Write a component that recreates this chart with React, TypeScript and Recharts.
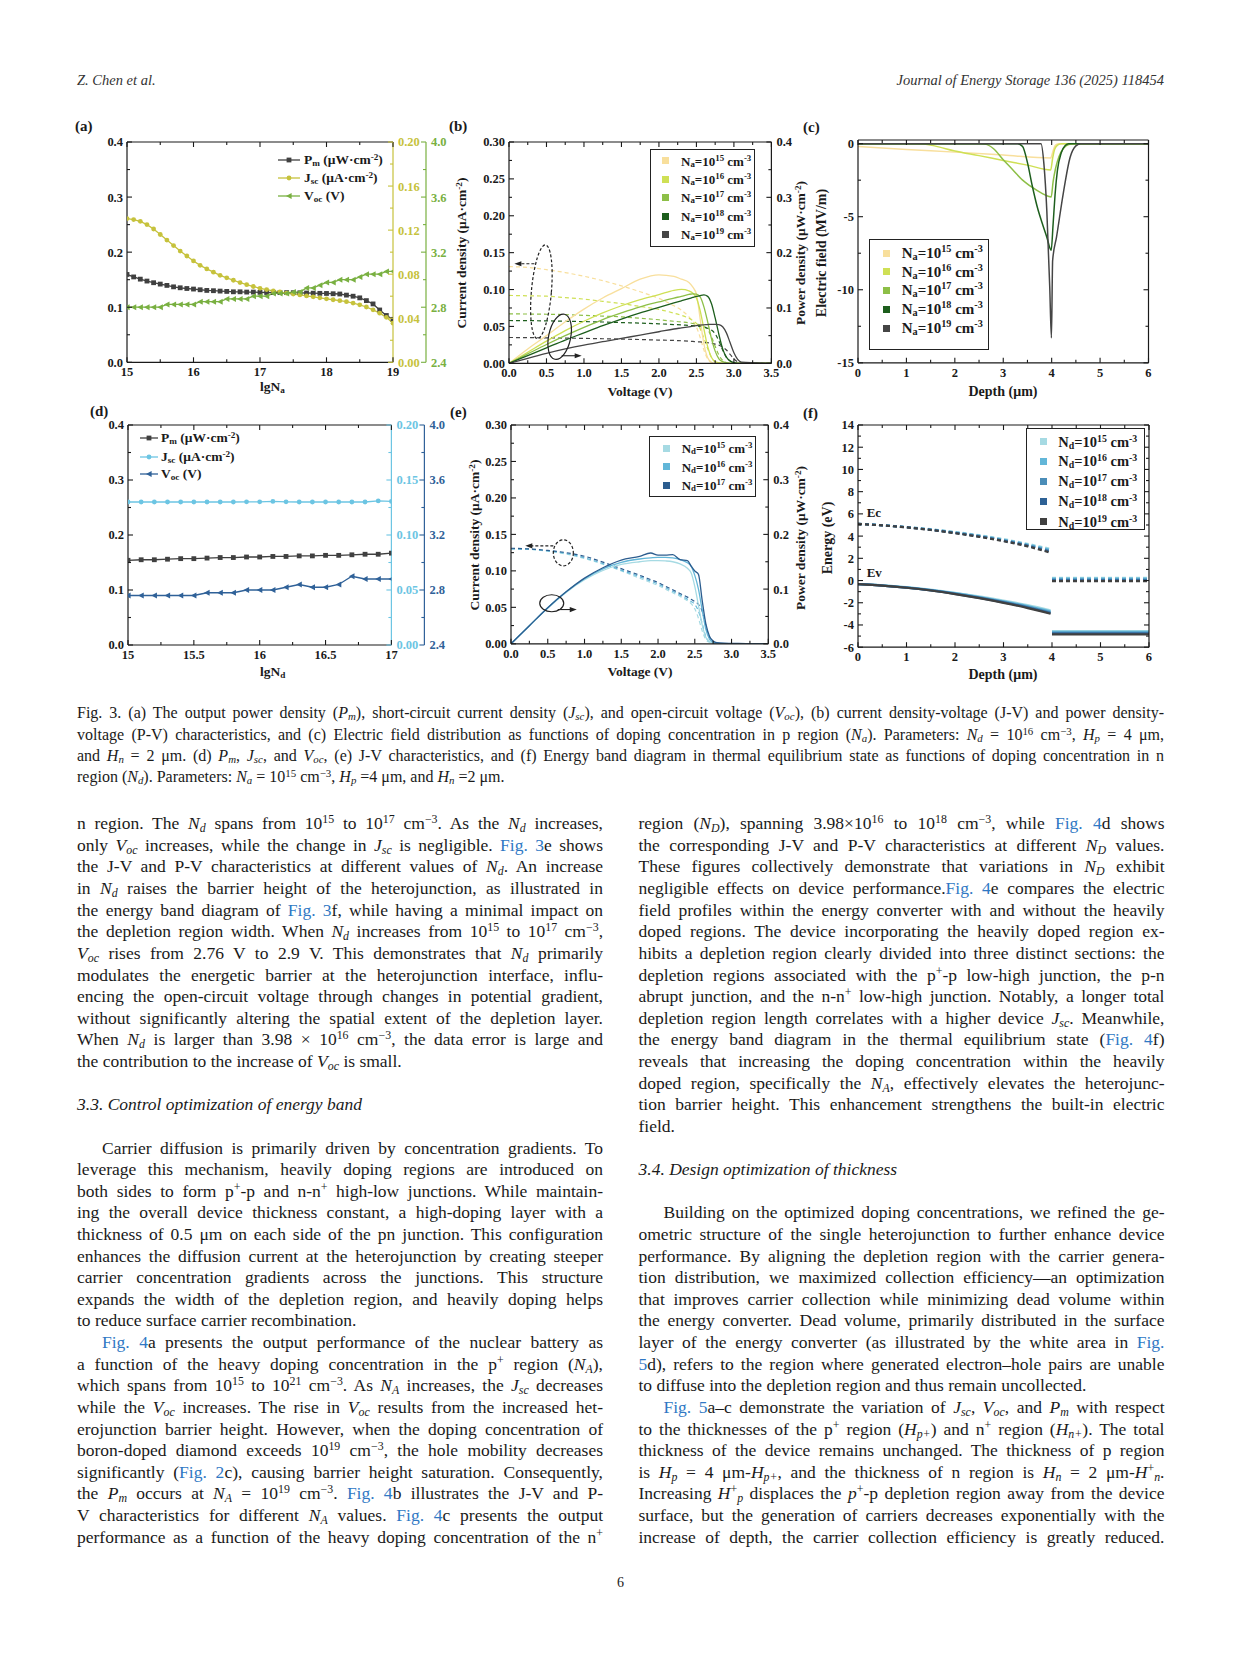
import React from "react";
import { Line, LineChart, ReferenceDot, XAxis, YAxis } from "recharts";

const FONT = '"Liberation Serif", "Times New Roman", serif';
const INK = "#1a1a1a";
const LINK = "#2f78c4";

// (a) output vs p-region doping
const lgNa = [15, 15.1, 15.2, 15.3, 15.4, 15.5, 15.6, 15.7, 15.8, 15.9, 16, 16.1, 16.2, 16.3, 16.4, 16.5, 16.6, 16.7, 16.8, 16.9, 17, 17.1, 17.2, 17.3, 17.4, 17.5, 17.6, 17.7, 17.8, 17.9, 18, 18.1, 18.2, 18.3, 18.4, 18.5, 18.6, 18.7, 18.8, 18.9, 19];
const pmA = [0.1595, 0.155, 0.151, 0.1475, 0.1445, 0.142, 0.1396, 0.137, 0.1353, 0.134, 0.133, 0.1317, 0.1305, 0.13, 0.1293, 0.1287, 0.128, 0.128, 0.1275, 0.1275, 0.127, 0.1267, 0.1266, 0.1265, 0.1265, 0.1264, 0.1262, 0.1258, 0.1255, 0.1252, 0.125, 0.1245, 0.124, 0.122, 0.12, 0.117, 0.112, 0.106, 0.095, 0.085, 0.078];
const jscA = [0.1305, 0.1296, 0.128, 0.125, 0.121, 0.116, 0.111, 0.106, 0.101, 0.0965, 0.092, 0.088, 0.0848, 0.0818, 0.079, 0.0767, 0.0745, 0.0724, 0.0705, 0.0688, 0.0672, 0.066, 0.0648, 0.0638, 0.0628, 0.062, 0.0612, 0.0603, 0.0594, 0.0585, 0.0576, 0.0568, 0.0559, 0.055, 0.0538, 0.0522, 0.0502, 0.0476, 0.0446, 0.0408, 0.0355];
const vocA = [2.8, 2.8, 2.8, 2.8, 2.8, 2.8, 2.82, 2.82, 2.82, 2.82, 2.82, 2.84, 2.84, 2.84, 2.84, 2.86, 2.86, 2.86, 2.86, 2.88, 2.88, 2.88, 2.9, 2.9, 2.9, 2.91, 2.91, 2.94, 2.94, 2.96, 2.98, 2.98, 3.0, 3.0, 3.0, 3.02, 3.04, 3.04, 3.04, 3.06, 3.06];

// (d) output vs n-region doping
const lgNd = [15, 15.1, 15.2, 15.3, 15.4, 15.5, 15.6, 15.7, 15.8, 15.9, 16, 16.1, 16.2, 16.3, 16.4, 16.5, 16.6, 16.7, 16.8, 16.9, 17];
const pmD = [0.154, 0.155, 0.155, 0.156, 0.157, 0.157, 0.158, 0.159, 0.159, 0.16, 0.16, 0.161, 0.161, 0.162, 0.162, 0.163, 0.163, 0.164, 0.165, 0.165, 0.167];
const jscD = [0.13, 0.13, 0.13, 0.13, 0.13, 0.13, 0.13, 0.13, 0.13, 0.1302, 0.1302, 0.1305, 0.1302, 0.13, 0.13, 0.13, 0.13, 0.13, 0.13, 0.131, 0.1305];
const vocD = [2.76, 2.76, 2.76, 2.76, 2.76, 2.76, 2.78, 2.78, 2.78, 2.8, 2.8, 2.8, 2.82, 2.84, 2.82, 2.82, 2.84, 2.9, 2.88, 2.88, 2.88];

// (b) J-V (left axis) and P-V (right axis), N_a = 1e15..1e19
const vB = [0, 0.25, 0.5, 0.75, 1.0, 1.25, 1.5, 1.75, 2.0, 2.2, 2.3, 2.4, 2.45, 2.5, 2.55, 2.6, 2.65, 2.7, 2.75, 2.8, 2.85, 2.9, 2.95, 3.0, 3.05, 3.1, 3.5];
const jB15 = [0.131, 0.13, 0.127, 0.123, 0.118, 0.112, 0.105, 0.097, 0.088, 0.078, 0.072, 0.063, 0.057, 0.049, 0.035, 0.018, 0.006, 0.001, 0, 0, 0, 0, 0, 0, 0, 0, 0];
const jB16 = [0.092, 0.0915, 0.091, 0.089, 0.087, 0.084, 0.081, 0.077, 0.073, 0.068, 0.065, 0.061, 0.058, 0.054, 0.047, 0.034, 0.02, 0.008, 0.002, 0.0005, 0, 0, 0, 0, 0, 0, 0];
const jB17 = [0.067, 0.0668, 0.0665, 0.066, 0.065, 0.064, 0.063, 0.061, 0.059, 0.057, 0.056, 0.055, 0.054, 0.053, 0.052, 0.05, 0.046, 0.036, 0.023, 0.011, 0.004, 0.001, 0, 0, 0, 0, 0];
const jB18 = [0.058, 0.0578, 0.0575, 0.057, 0.0565, 0.056, 0.0552, 0.0545, 0.0535, 0.0525, 0.052, 0.0513, 0.051, 0.0505, 0.05, 0.049, 0.0475, 0.045, 0.04, 0.03, 0.018, 0.008, 0.003, 0.001, 0, 0, 0];
const jB19 = [0.035, 0.0348, 0.0345, 0.0342, 0.0338, 0.0333, 0.0328, 0.0322, 0.0315, 0.031, 0.0305, 0.03, 0.0297, 0.0293, 0.029, 0.0285, 0.028, 0.0272, 0.026, 0.0245, 0.022, 0.018, 0.012, 0.006, 0.002, 0.0005, 0];
const pB15 = [0, 0.026, 0.05, 0.075, 0.098, 0.118, 0.135, 0.152, 0.16, 0.157, 0.152, 0.146, 0.138, 0.125, 0.08, 0.035, 0.01, 0.002, 0, 0, 0, 0, 0, 0, 0, 0, 0];
const pB16 = [0, 0.02, 0.04, 0.059, 0.076, 0.091, 0.104, 0.115, 0.124, 0.132, 0.1335, 0.131, 0.127, 0.118, 0.095, 0.062, 0.03, 0.011, 0.003, 0.001, 0, 0, 0, 0, 0, 0, 0];
const pB17 = [0, 0.017, 0.034, 0.05, 0.065, 0.079, 0.091, 0.102, 0.111, 0.118, 0.121, 0.1245, 0.1255, 0.125, 0.12, 0.102, 0.075, 0.045, 0.022, 0.008, 0.003, 0.001, 0, 0, 0, 0, 0];
const pB18 = [0, 0.014, 0.028, 0.042, 0.055, 0.068, 0.08, 0.091, 0.101, 0.109, 0.113, 0.117, 0.119, 0.121, 0.1225, 0.1235, 0.121, 0.108, 0.082, 0.052, 0.026, 0.011, 0.004, 0.001, 0, 0, 0];
const pB19 = [0, 0.009, 0.018, 0.026, 0.033, 0.039, 0.045, 0.051, 0.057, 0.062, 0.064, 0.066, 0.067, 0.068, 0.069, 0.0695, 0.07, 0.0705, 0.0705, 0.07, 0.066, 0.055, 0.037, 0.019, 0.007, 0.002, 0];

// (e) J-V and P-V, N_d = 1e15..1e17
const vE = [0, 0.25, 0.5, 0.75, 1.0, 1.25, 1.5, 1.75, 1.9, 2.0, 2.1, 2.2, 2.3, 2.4, 2.45, 2.5, 2.55, 2.6, 2.65, 2.7, 2.75, 2.8, 2.9, 3.0, 3.2, 3.5];
const jE15 = [0.13, 0.1295, 0.127, 0.123, 0.117, 0.109, 0.1, 0.09, 0.084, 0.08, 0.075, 0.07, 0.065, 0.059, 0.055, 0.048, 0.035, 0.018, 0.006, 0.002, 0, 0, 0, 0, 0, 0];
const jE16 = [0.13, 0.1297, 0.1275, 0.124, 0.118, 0.11, 0.101, 0.092, 0.086, 0.082, 0.077, 0.072, 0.067, 0.061, 0.058, 0.054, 0.045, 0.028, 0.01, 0.003, 0.001, 0, 0, 0, 0, 0];
const jE17 = [0.131, 0.13, 0.128, 0.125, 0.12, 0.112, 0.103, 0.094, 0.088, 0.084, 0.079, 0.074, 0.069, 0.064, 0.061, 0.058, 0.054, 0.045, 0.025, 0.008, 0.002, 0, 0, 0, 0, 0];
const pE15 = [0, 0.033, 0.065, 0.094, 0.117, 0.134, 0.145, 0.15, 0.152, 0.152, 0.1515, 0.15, 0.146, 0.138, 0.13, 0.105, 0.07, 0.035, 0.012, 0.004, 0.001, 0, 0, 0, 0, 0];
const pE16 = [0, 0.033, 0.066, 0.095, 0.119, 0.137, 0.149, 0.155, 0.157, 0.158, 0.158, 0.157, 0.154, 0.148, 0.142, 0.125, 0.1, 0.062, 0.027, 0.009, 0.003, 0.001, 0, 0, 0, 0];
const pE17 = [0, 0.033, 0.066, 0.095, 0.12, 0.139, 0.153, 0.16, 0.166, 0.162, 0.162, 0.163, 0.154, 0.152, 0.142, 0.133, 0.127, 0.08, 0.037, 0.014, 0.005, 0.002, 0.001, 0.0008, 0.0003, 0];

// (c) electric field vs depth
const efX15 = [0, 1, 2, 3, 3.98, 4.02, 4.06, 4.1, 4.15, 6];
const efY15 = [-0.2, -0.4, -0.58, -0.78, -0.98, -0.6, -0.2, -0.05, 0, 0];
const efX16 = [0, 1.2, 1.4, 1.6, 2.0, 2.5, 3.0, 3.5, 3.98, 4.02, 4.06, 4.12, 4.2, 6];
const efY16 = [0, 0, -0.04, -0.17, -0.5, -0.82, -1.15, -1.47, -1.8, -1.0, -0.4, -0.1, 0, 0];
const efX17 = [0, 2.5, 2.65, 2.8, 3.0, 3.2, 3.4, 3.6, 3.8, 3.99, 4.03, 4.08, 4.15, 4.25, 4.35, 4.45, 6];
const efY17 = [0, 0, -0.05, -0.35, -1.1, -1.8, -2.5, -3.0, -3.4, -3.65, -2.6, -1.7, -0.9, -0.3, -0.06, 0, 0];
const efX18 = [0, 3.3, 3.4, 3.5, 3.6, 3.7, 3.8, 3.9, 3.99, 4.03, 4.07, 4.12, 4.2, 4.28, 4.35, 6];
const efY18 = [0, 0, -0.2, -1.3, -2.9, -4.3, -5.4, -6.4, -7.3, -5.5, -3.5, -1.8, -0.6, -0.12, 0, 0];
const efX19 = [0, 3.78, 3.84, 3.9, 3.96, 3.995, 4.02, 4.1, 4.24, 4.38, 4.5, 4.6, 6];
const efY19 = [0, 0, -1.4, -4.6, -9.8, -13.3, -8.0, -6.4, -3.4, -0.95, -0.15, 0, 0];

// (f) energy band, N_d = 1e15..1e19
const dF = [0, 0.5, 1, 1.5, 2, 2.5, 3, 3.5, 3.97];
const ecF15 = [5.1, 4.98, 4.82, 4.62, 4.37, 4.08, 3.73, 3.3, 2.85];
const ecF16 = [5.1, 4.98, 4.81, 4.6, 4.34, 4.04, 3.68, 3.24, 2.75];
const ecF17 = [5.1, 4.97, 4.8, 4.58, 4.31, 4.0, 3.63, 3.18, 2.65];
const ecF18 = [5.1, 4.97, 4.79, 4.56, 4.28, 3.96, 3.58, 3.12, 2.57];
const ecF19 = [5.1, 4.96, 4.78, 4.55, 4.26, 3.93, 3.54, 3.07, 2.5];
const evF15 = [-0.33, -0.43, -0.6, -0.82, -1.1, -1.43, -1.8, -2.22, -2.68];
const evF16 = [-0.33, -0.44, -0.62, -0.85, -1.14, -1.48, -1.87, -2.3, -2.78];
const evF17 = [-0.33, -0.45, -0.63, -0.87, -1.17, -1.52, -1.92, -2.37, -2.86];
const evF18 = [-0.33, -0.45, -0.64, -0.89, -1.2, -1.56, -1.97, -2.43, -2.93];
const evF19 = [-0.33, -0.46, -0.65, -0.9, -1.22, -1.59, -2.01, -2.48, -2.99];
const dFR = [4.0, 6.0];
const ecRight = [0.25, 0.17, 0.09, 0.02, -0.05];
const evRight = [-4.55, -4.63, -4.7, -4.78, -4.85];

// ticks
const tA = [15, 15.5, 16, 16.5, 17, 17.5, 18, 18.5, 19];
const tAMaj = [15, 16, 17, 18, 19];
const tD = [15, 15.25, 15.5, 15.75, 16, 16.25, 16.5, 16.75, 17];
const tDMaj = [15, 15.5, 16, 16.5, 17];
const tPm = [0, 0.05, 0.1, 0.15, 0.2, 0.25, 0.3, 0.35, 0.4];
const tPmMaj = [0, 0.1, 0.2, 0.3, 0.4];
const tJscA = [0, 0.02, 0.04, 0.06, 0.08, 0.1, 0.12, 0.14, 0.16, 0.18, 0.2];
const tJscAMaj = [0, 0.04, 0.08, 0.12, 0.16, 0.2];
const tJscD = [0, 0.025, 0.05, 0.075, 0.1, 0.125, 0.15, 0.175, 0.2];
const tJscDMaj = [0, 0.05, 0.1, 0.15, 0.2];
const tVoc = [2.4, 2.6, 2.8, 3.0, 3.2, 3.4, 3.6, 3.8, 4.0];
const tVocMaj = [2.4, 2.8, 3.2, 3.6, 4.0];
const tV = [0, 0.25, 0.5, 0.75, 1, 1.25, 1.5, 1.75, 2, 2.25, 2.5, 2.75, 3, 3.25, 3.5];
const tVMaj = [0, 0.5, 1, 1.5, 2, 2.5, 3, 3.5];
const tJ = [0, 0.025, 0.05, 0.075, 0.1, 0.125, 0.15, 0.175, 0.2, 0.225, 0.25, 0.275, 0.3];
const tJMaj = [0, 0.05, 0.1, 0.15, 0.2, 0.25, 0.3];
const tP = [0, 0.05, 0.1, 0.15, 0.2, 0.25, 0.3, 0.35, 0.4];
const tPMaj = [0, 0.1, 0.2, 0.3, 0.4];
const tDepth = [0, 0.5, 1, 1.5, 2, 2.5, 3, 3.5, 4, 4.5, 5, 5.5, 6];
const tDepthMaj = [0, 1, 2, 3, 4, 5, 6];
const tEf = [-15, -12.5, -10, -7.5, -5, -2.5, 0];
const tEfMaj = [-15, -10, -5, 0];
const tEn = [-6, -5, -4, -3, -2, -1, 0, 1, 2, 3, 4, 5, 6, 7, 8, 9, 10, 11, 12, 13, 14];
const tEnMaj = [-6, -4, -2, 0, 2, 4, 6, 8, 10, 12, 14];

const exps = [15, 16, 17, 18, 19];
const greens = ["#f8df9c", "#cfe055", "#8dbf47", "#1d5e1d", "#454545"];
const blues = ["#a6dae3", "#62b6d8", "#4b8db8", "#2d6195", "#404040"];
const bluesE = ["#a6dae3", "#62b6d8", "#2c5d8f"];

const pts = (xs: number[], ys: number[]) => xs.map((x, i) => ({ x, y: ys[i] }));
const f0 = (v: number) => String(v);
const f1 = (v: number) => v.toFixed(1);
const f2 = (v: number) => v.toFixed(2);

const PAD = { l: 55, t: 12, r: 10, b: 38 };
const XH = 25;
const TH = 1;
const AXL = { stroke: INK, strokeWidth: 1.2 };

function mkTick(side: string, majors: number[], fmt: (v: number) => string, color = INK, labels = true) {
  return (p: any) => {
    const v = p.payload.value;
    const major = majors.some((m) => Math.abs(m - v) < 1e-6);
    const len = major ? 5 : 3;
    const { x, y } = p;
    let l = [x, y, x, y];
    let tx = x;
    let ty = y;
    let anchor = "middle";
    if (side === "left") { l = [x, y, x + len, y]; tx = x - 4; ty = y + 4.5; anchor = "end"; }
    else if (side === "right") { l = [x, y, x - len, y]; tx = x + 5; ty = y + 4.5; anchor = "start"; }
    else if (side === "bottom") { l = [x, y, x, y - len]; ty = y + 14; }
    else { l = [x, y, x, y + len]; }
    return (
      <g>
        <line x1={l[0]} y1={l[1]} x2={l[2]} y2={l[3]} stroke={color} strokeWidth={1.1} />
        {labels && major && side !== "top" ? (
          <text x={tx} y={ty} textAnchor={anchor} fill={color} fontFamily={FONT} fontWeight="bold" fontSize={12.5}>{fmt(v)}</text>
        ) : null}
      </g>
    );
  };
}

function xAxes(domain: number[], ticks: number[], majors: number[], fmt: (v: number) => string) {
  return [
    <XAxis key="xb" xAxisId="b" type="number" dataKey="x" domain={domain} ticks={ticks} interval={0} allowDataOverflow tickSize={0} tickMargin={0} height={XH} axisLine={AXL} tickLine={false} tick={mkTick("bottom", majors, fmt)} />,
    <XAxis key="xt" xAxisId="t" orientation="top" type="number" dataKey="x" domain={domain} ticks={ticks} interval={0} allowDataOverflow tickSize={0} tickMargin={0} height={TH} axisLine={AXL} tickLine={false} tick={mkTick("top", majors, fmt)} />,
  ];
}

function yAxis(id: string, side: "left" | "right", width: number, domain: number[], ticks: number[], majors: number[], fmt: (v: number) => string, color = INK, labels = true) {
  return (
    <YAxis key={id} yAxisId={id} orientation={side} width={width} type="number" domain={domain} ticks={ticks} interval={0} allowDataOverflow tickSize={0} tickMargin={0} axisLine={{ stroke: color, strokeWidth: 1.2 }} tickLine={false} tick={mkTick(side, majors, fmt, color, labels)} />
  );
}

function line(key: string, data: any[], yId: string, color: string, dashed = false, w = 1.3, dataKey = "y") {
  return (
    <Line key={key} xAxisId="b" yAxisId={yId} data={data} dataKey={dataKey} type="monotone" stroke={color} strokeWidth={w} strokeDasharray={dashed ? "4 3" : undefined} dot={false} activeDot={false} isAnimationActive={false} />
  );
}

function Frame({ plot, lw, rw, data, children }: any) {
  const [l, t, r, b] = plot;
  const width = r - l + PAD.l + rw + PAD.r;
  const height = b - t + PAD.t + PAD.b;
  return (
    <div style={{ position: "absolute", left: l - PAD.l, top: t - PAD.t }}>
      <LineChart width={width} height={height} data={data} margin={{ left: PAD.l - lw, top: PAD.t - TH, right: PAD.r, bottom: PAD.b - XH }}>
        {children}
      </LineChart>
    </div>
  );
}

const sqDot = (c: string) => (p: any) => <rect key={p.index} x={p.cx - 2.4} y={p.cy - 2.4} width={4.8} height={4.8} fill={c} />;
const ciDot = (c: string) => (p: any) => <circle key={p.index} cx={p.cx} cy={p.cy} r={2.4} fill={c} />;
const trDot = (c: string) => (p: any) => <path key={p.index} d={`M${p.cx - 3},${p.cy} L${p.cx + 2.6},${p.cy - 3} L${p.cx + 2.6},${p.cy + 3} Z`} fill={c} />;

function oval(o: any) {
  return (p: any) => {
    const { cx, cy } = p;
    const x1 = cx + o.ax[0];
    const x2 = cx + o.ax[1];
    const ay = cy + o.ay;
    const dir = Math.sign(x2 - x1);
    const dash = o.dashed ? "3 2" : undefined;
    return (
      <g>
        <ellipse cx={cx} cy={cy} rx={o.rx} ry={o.ry} transform={`rotate(${o.rot} ${cx} ${cy})`} fill="none" stroke="#222" strokeWidth={1.2} strokeDasharray={dash} />
        <line x1={x1} y1={ay} x2={x2 - dir * 5} y2={ay} stroke="#222" strokeWidth={1.1} strokeDasharray={dash} />
        <path d={`M${x2},${ay} L${x2 - dir * 7},${ay - 2.6} L${x2 - dir * 7},${ay + 2.6} Z`} fill="#222" />
      </g>
    );
  };
}

const annB = [
  { x: 0.432, y: 0.097, rx: 10, ry: 47, rot: 5, dashed: true, ax: [-7, -27], ay: -28 },
  { x: 0.676, y: 0.036, rx: 11, ry: 23, rot: 12, dashed: false, ax: [2, 22], ay: 19 },
];
const annE = [
  { x: 0.712, y: 0.1247, rx: 10, ry: 13, rot: 0, dashed: true, ax: [-10, -38], ay: -7 },
  { x: 0.554, y: 0.0556, rx: 12, ry: 8.5, rot: 0, dashed: false, ax: [6, 25], ay: 6.3 },
];

// ---------- HTML helpers ----------
const abs = (left: number, top: number, extra: any = {}) => ({ position: "absolute" as const, left, top, ...extra });

function Txt({ x, y, fs = 13.5, bold = true, children, anchor = "left", color = INK, italic = false }: any) {
  const tf = anchor === "middle" ? "translate(-50%,-50%)" : anchor === "end" ? "translate(-100%,-50%)" : "translateY(-50%)";
  return (
    <div style={abs(x, y, { transform: tf, fontSize: fs, fontWeight: bold ? "bold" : "normal", fontStyle: italic ? "italic" : "normal", fontFamily: FONT, color, whiteSpace: "nowrap", lineHeight: 1 })}>
      {children}
    </div>
  );
}

function VTxt({ x, y, fs = 13.5, children }: any) {
  return (
    <div style={abs(x, y, { transform: "translate(-50%,-50%) rotate(-90deg)", fontSize: fs, fontWeight: "bold", fontFamily: FONT, color: INK, whiteSpace: "nowrap", lineHeight: 1 })}>
      {children}
    </div>
  );
}

function SqLegend({ box, ys, colors, sub, sqX, txX, fs, sq = 7 }: any) {
  return (
    <>
      <div style={abs(box[0], box[1], { width: box[2] - box[0], height: box[3] - box[1], border: "1.4px solid #222", boxSizing: "border-box", background: "#fff" })} />
      {ys.map((y: number, i: number) => (
        <React.Fragment key={i}>
          <div style={abs(sqX - sq / 2, y - sq / 2, { width: sq, height: sq, background: colors[i] })} />
          <Txt x={txX} y={y} fs={fs}>
            N<sub>{sub}</sub>=10<sup>{exps[i]}</sup> cm<sup>-3</sup>
          </Txt>
        </React.Fragment>
      ))}
    </>
  );
}

function MkLegend({ rows, x0, x1, txX }: any) {
  return (
    <>
      {rows.map((r: any, i: number) => {
        const w = x1 - x0;
        const cx = w / 2;
        return (
          <React.Fragment key={i}>
            <svg style={abs(x0, r.y - 5)} width={w} height={10}>
              <line x1={0} y1={5} x2={w} y2={5} stroke={r.color} strokeWidth={1.3} />
              {r.m === "sq" ? <rect x={cx - 2.4} y={2.6} width={4.8} height={4.8} fill={r.color} /> : null}
              {r.m === "ci" ? <circle cx={cx} cy={5} r={2.4} fill={r.color} /> : null}
              {r.m === "tr" ? <path d={`M${cx - 3},5 L${cx + 2.6},2 L${cx + 2.6},8 Z`} fill={r.color} /> : null}
            </svg>
            <Txt x={txX} y={r.y} fs={13.5}>{r.label}</Txt>
          </React.Fragment>
        );
      })}
    </>
  );
}

const PmL = () => <>P<sub>m</sub> (μW·cm<sup>-2</sup>)</>;
const JscL = () => <>J<sub>sc</sub> (μA·cm<sup>-2</sup>)</>;
const VocL = () => <>V<sub>oc</sub> (V)</>;

// ---------- panels ----------
const rowsA = lgNa.map((x, i) => ({ x, pm: pmA[i], jsc: jscA[i], voc: vocA[i] }));
const rowsD = lgNd.map((x, i) => ({ x, pm: pmD[i], jsc: jscD[i], voc: vocD[i] }));

function SweepPanel({ plot, rows, xDom, xt, xtMaj, jscTicks, jscMaj, jscColor, vocColor }: any) {
  return (
    <Frame plot={plot} lw={45} rw={33 + 36} data={rows}>
      {xAxes(xDom, xt, xtMaj, f0)}
      {yAxis("pm", "left", 45, [0, 0.4], tPm, tPmMaj, f1)}
      {yAxis("jsc", "right", 33, [0, 0.2], jscTicks, jscMaj, f2, jscColor)}
      {yAxis("voc", "right", 36, [2.4, 4.0], tVoc, tVocMaj, f1, vocColor)}
      <Line xAxisId="b" yAxisId="pm" dataKey="pm" type="linear" stroke="#404040" strokeWidth={1.3} dot={sqDot("#404040")} activeDot={false} isAnimationActive={false} />
      <Line xAxisId="b" yAxisId="jsc" dataKey="jsc" type="linear" stroke={jscColor} strokeWidth={1.3} dot={ciDot(jscColor)} activeDot={false} isAnimationActive={false} />
      <Line xAxisId="b" yAxisId="voc" dataKey="voc" type="linear" stroke={vocColor} strokeWidth={1.3} dot={trDot(vocColor)} activeDot={false} isAnimationActive={false} />
    </Frame>
  );
}

function JVPanel({ plot, v, js, ps, colors, ann }: any) {
  return (
    <Frame plot={plot} lw={45} rw={30}>
      {xAxes([0, 3.5], tV, tVMaj, f1)}
      {yAxis("j", "left", 45, [0, 0.3], tJ, tJMaj, f2)}
      {yAxis("p", "right", 30, [0, 0.4], tP, tPMaj, f1)}
      {js.map((j: number[], i: number) => line(`j${i}`, pts(v, j), "j", colors[i], true, 1.2))}
      {ps.map((p: number[], i: number) => line(`p${i}`, pts(v, p), "p", colors[i], false, 1.3))}
      {ann.map((a: any, i: number) => (
        <ReferenceDot key={`a${i}`} xAxisId="b" yAxisId="j" x={a.x} y={a.y} r={1} shape={oval(a)} />
      ))}
    </Frame>
  );
}

function FieldPanel() {
  const xs = [efX15, efX16, efX17, efX18, efX19];
  const ys = [efY15, efY16, efY17, efY18, efY19];
  return (
    <Frame plot={[858, 139.5, 1148.5, 362.3]} lw={45} rw={1}>
      {xAxes([0, 6], tDepth, tDepthMaj, f0)}
      {yAxis("e", "left", 45, [-15, 0.25], tEf, tEfMaj, f0)}
      {yAxis("r", "right", 1, [-15, 0.25], tEf, tEfMaj, f0, INK, false)}
      {xs.map((x, i) => line(`e${i}`, pts(x, ys[i]), "e", greens[i], false, 1.5))}
    </Frame>
  );
}

function BandPanel() {
  const ec = [ecF15, ecF16, ecF17, ecF18, ecF19];
  const ev = [evF15, evF16, evF17, evF18, evF19];
  return (
    <Frame plot={[858, 424.5, 1149, 646.7]} lw={45} rw={1}>
      {xAxes([0, 6], tDepth, tDepthMaj, f0)}
      {yAxis("e", "left", 45, [-6, 14], tEn, tEnMaj, f0)}
      {yAxis("r", "right", 1, [-6, 14], tEn, tEnMaj, f0, INK, false)}
      {ec.map((c, i) => line(`ec${i}`, pts(dF, c), "e", blues[i], true, 2.2))}
      {ev.map((c, i) => line(`ev${i}`, pts(dF, c), "e", blues[i], false, 2.2))}
      {ecRight.map((c, i) => line(`ecr${i}`, pts(dFR, [c, c]), "e", blues[i], true, 2.2))}
      {evRight.map((c, i) => line(`evr${i}`, pts(dFR, [c, c]), "e", blues[i], false, 2.2))}
    </Frame>
  );
}

// ---------- page text ----------
const Nv = ({ v, s }: { v: string; s: string }) => (
  <>
    <i>{v}</i>
    <sub><i>{s}</i></sub>
  </>
);
const Lk = ({ children }: any) => <span style={{ color: LINK }}>{children}</span>;

function TL({ x, y, w, fs, flags = "", children }: any) {
  const lh = 20;
  const last = flags.includes("l") || flags.includes("h");
  return (
    <div
      style={abs(x, y - lh / 2 - 1, {
        width: w,
        height: lh,
        lineHeight: `${lh}px`,
        fontSize: fs,
        fontFamily: FONT,
        color: INK,
        textAlign: last ? "left" : "justify",
        textAlignLast: last ? "left" : "justify",
        whiteSpace: "nowrap",
        paddingLeft: flags.includes("i") ? 25 : 0,
        boxSizing: "border-box",
        fontStyle: flags.includes("h") ? "italic" : "normal",
      })}
    >
      {children}
    </div>
  );
}

const col = (x: number, rows: any[]) =>
  rows.map(([s, c, f]) => (
    <TL key={s} x={x} y={824.2 + s * 21.62} w={526} fs={17.5} flags={f}>
      {c}
    </TL>
  ));

const m3 = <>cm<sup>−3</sup></>;

const leftRows = [
  [0, <>n region. The <Nv v="N" s="d" /> spans from 10<sup>15</sup> to 10<sup>17</sup> {m3}. As the <Nv v="N" s="d" /> increases,</>],
  [1, <>only <Nv v="V" s="oc" /> increases, while the change in <Nv v="J" s="sc" /> is negligible. <Lk>Fig. 3</Lk>e shows</>],
  [2, <>the J-V and P-V characteristics at different values of <Nv v="N" s="d" />. An increase</>],
  [3, <>in <Nv v="N" s="d" /> raises the barrier height of the heterojunction, as illustrated in</>],
  [4, <>the energy band diagram of <Lk>Fig. 3</Lk>f, while having a minimal impact on</>],
  [5, <>the depletion region width. When <Nv v="N" s="d" /> increases from 10<sup>15</sup> to 10<sup>17</sup> {m3},</>],
  [6, <><Nv v="V" s="oc" /> rises from 2.76 V to 2.9 V. This demonstrates that <Nv v="N" s="d" /> primarily</>],
  [7, <>modulates the energetic barrier at the heterojunction interface, influ-</>],
  [8, <>encing the open-circuit voltage through changes in potential gradient,</>],
  [9, <>without significantly altering the spatial extent of the depletion layer.</>],
  [10, <>When <Nv v="N" s="d" /> is larger than 3.98 × 10<sup>16</sup> {m3}, the data error is large and</>],
  [11, <>the contribution to the increase of <Nv v="V" s="oc" /> is small.</>, "l"],
  [13, <>3.3. Control optimization of energy band</>, "h"],
  [15, <>Carrier diffusion is primarily driven by concentration gradients. To</>, "i"],
  [16, <>leverage this mechanism, heavily doping regions are introduced on</>],
  [17, <>both sides to form p<sup>+</sup>-p and n-n<sup>+</sup> high-low junctions. While maintain-</>],
  [18, <>ing the overall device thickness constant, a high-doping layer with a</>],
  [19, <>thickness of 0.5 μm on each side of the pn junction. This configuration</>],
  [20, <>enhances the diffusion current at the heterojunction by creating steeper</>],
  [21, <>carrier concentration gradients across the junctions. This structure</>],
  [22, <>expands the width of the depletion region, and heavily doping helps</>],
  [23, <>to reduce surface carrier recombination.</>, "l"],
  [24, <><Lk>Fig. 4</Lk>a presents the output performance of the nuclear battery as</>, "i"],
  [25, <>a function of the heavy doping concentration in the p<sup>+</sup> region (<Nv v="N" s="A" />),</>],
  [26, <>which spans from 10<sup>15</sup> to 10<sup>21</sup> {m3}. As <Nv v="N" s="A" /> increases, the <Nv v="J" s="sc" /> decreases</>],
  [27, <>while the <Nv v="V" s="oc" /> increases. The rise in <Nv v="V" s="oc" /> results from the increased het-</>],
  [28, <>erojunction barrier height. However, when the doping concentration of</>],
  [29, <>boron-doped diamond exceeds 10<sup>19</sup> {m3}, the hole mobility decreases</>],
  [30, <>significantly (<Lk>Fig. 2</Lk>c), causing barrier height saturation. Consequently,</>],
  [31, <>the <Nv v="P" s="m" /> occurs at <Nv v="N" s="A" /> = 10<sup>19</sup> {m3}. <Lk>Fig. 4</Lk>b illustrates the J-V and P-</>],
  [32, <>V characteristics for different <Nv v="N" s="A" /> values. <Lk>Fig. 4</Lk>c presents the output</>],
  [33, <>performance as a function of the heavy doping concentration of the n<sup>+</sup></>],
];

const rightRows = [
  [0, <>region (<Nv v="N" s="D" />), spanning 3.98×10<sup>16</sup> to 10<sup>18</sup> {m3}, while <Lk>Fig. 4</Lk>d shows</>],
  [1, <>the corresponding J-V and P-V characteristics at different <Nv v="N" s="D" /> values.</>],
  [2, <>These figures collectively demonstrate that variations in <Nv v="N" s="D" /> exhibit</>],
  [3, <>negligible effects on device performance.<Lk>Fig. 4</Lk>e compares the electric</>],
  [4, <>field profiles within the energy converter with and without the heavily</>],
  [5, <>doped regions. The device incorporating the heavily doped region ex-</>],
  [6, <>hibits a depletion region clearly divided into three distinct sections: the</>],
  [7, <>depletion regions associated with the p<sup>+</sup>-p low-high junction, the p-n</>],
  [8, <>abrupt junction, and the n-n<sup>+</sup> low-high junction. Notably, a longer total</>],
  [9, <>depletion region length correlates with a higher device <Nv v="J" s="sc" />. Meanwhile,</>],
  [10, <>the energy band diagram in the thermal equilibrium state (<Lk>Fig. 4</Lk>f)</>],
  [11, <>reveals that increasing the doping concentration within the heavily</>],
  [12, <>doped region, specifically the <Nv v="N" s="A" />, effectively elevates the heterojunc-</>],
  [13, <>tion barrier height. This enhancement strengthens the built-in electric</>],
  [14, <>field.</>, "l"],
  [16, <>3.4. Design optimization of thickness</>, "h"],
  [18, <>Building on the optimized doping concentrations, we refined the ge-</>, "i"],
  [19, <>ometric structure of the single heterojunction to further enhance device</>],
  [20, <>performance. By aligning the depletion region with the carrier genera-</>],
  [21, <>tion distribution, we maximized collection efficiency—an optimization</>],
  [22, <>that improves carrier collection while minimizing dead volume within</>],
  [23, <>the energy converter. Dead volume, primarily distributed in the surface</>],
  [24, <>layer of the energy converter (as illustrated by the white area in <Lk>Fig.</Lk></>],
  [25, <><Lk>5</Lk>d), refers to the region where generated electron–hole pairs are unable</>],
  [26, <>to diffuse into the depletion region and thus remain uncollected.</>, "l"],
  [27, <><Lk>Fig. 5</Lk>a–c demonstrate the variation of <Nv v="J" s="sc" />, <Nv v="V" s="oc" />, and <Nv v="P" s="m" /> with respect</>, "i"],
  [28, <>to the thicknesses of the p<sup>+</sup> region (<Nv v="H" s="p+" />) and n<sup>+</sup> region (<Nv v="H" s="n+" />). The total</>],
  [29, <>thickness of the device remains unchanged. The thickness of p region</>],
  [30, <>is <Nv v="H" s="p" /> = 4 μm-<Nv v="H" s="p+" />, and the thickness of n region is <Nv v="H" s="n" /> = 2 μm-<i>H</i><sup>+</sup><sub><i>n</i></sub>.</>],
  [31, <>Increasing <i>H</i><sup>+</sup><sub><i>p</i></sub> displaces the <i>p</i><sup>+</sup>-p depletion region away from the device</>],
  [32, <>surface, but the generation of carriers decreases exponentially with the</>],
  [33, <>increase of depth, the carrier collection efficiency is greatly reduced.</>],
];

const capRows = [
  [714.4, <>Fig. 3. (a) The output power density (<Nv v="P" s="m" />), short-circuit current density (<Nv v="J" s="sc" />), and open-circuit voltage (<Nv v="V" s="oc" />), (b) current density-voltage (J-V) and power density-</>],
  [735.5, <>voltage (P-V) characteristics, and (c) Electric field distribution as functions of doping concentration in p region (<Nv v="N" s="a" />). Parameters: <Nv v="N" s="d" /> = 10<sup>16</sup> {m3}, <Nv v="H" s="p" /> = 4 μm,</>],
  [756.6, <>and <Nv v="H" s="n" /> = 2 μm. (d) <Nv v="P" s="m" />, <Nv v="J" s="sc" />, and <Nv v="V" s="oc" />, (e) J-V characteristics, and (f) Energy band diagram in thermal equilibrium state as functions of doping concentration in n</>],
  [777.7, <>region (<Nv v="N" s="d" />). Parameters: <Nv v="N" s="a" /> = 10<sup>15</sup> {m3}, <Nv v="H" s="p" /> =4 μm, and <Nv v="H" s="n" /> =2 μm.</>, "l"],
];

export default function App() {
  return (
    <div className="pg" style={abs(0, 0, { width: 1241, height: 1654, background: "#fff", overflow: "hidden" })}>
      <style>{`.pg sub,.pg sup{font-size:0.68em;line-height:0;}.pg sub{vertical-align:-0.22em;}.pg sup{vertical-align:0.5em;}`}</style>

      <Txt x={77} y={80} fs={14.5} bold={false} italic color="#333">Z. Chen et al.</Txt>
      <Txt x={1164} y={80} fs={14.5} bold={false} italic color="#333" anchor="end">Journal of Energy Storage 136 (2025) 118454</Txt>

      {/* (a) */}
      <SweepPanel plot={[127, 142, 393, 362.3]} rows={rowsA} xDom={[15, 19]} xt={tA} xtMaj={tAMaj} jscTicks={tJscA} jscMaj={tJscAMaj} jscColor="#c6c23c" vocColor="#79b041" />
      <MkLegend x0={278} x1={300} txX={304} rows={[
        { y: 160, color: "#404040", m: "sq", label: <PmL /> },
        { y: 178.3, color: "#c6c23c", m: "ci", label: <JscL /> },
        { y: 196, color: "#79b041", m: "tr", label: <VocL /> },
      ]} />
      <Txt x={260} y={387} fs={13.5}>lgN<sub>a</sub></Txt>
      <Txt x={75} y={126} fs={15}>(a)</Txt>

      {/* (b) */}
      <JVPanel plot={[509.3, 142, 771.7, 363.3]} v={vB} js={[jB15, jB16, jB17, jB18, jB19]} ps={[pB15, pB16, pB17, pB18, pB19]} colors={greens} ann={annB} />
      <SqLegend box={[650, 149.3, 755, 246.7]} ys={[160.7, 179, 197.3, 216, 234.3]} colors={greens} sub="a" sqX={665} txX={681} fs={13} />
      <Txt x={640} y={392} fs={13.5} anchor="middle">Voltage (V)</Txt>
      <VTxt x={462} y={253}>Current density (μA·cm<sup>-2</sup>)</VTxt>
      <Txt x={449} y={126} fs={15}>(b)</Txt>

      {/* (c) */}
      <FieldPanel />
      <SqLegend box={[869, 239.3, 989.3, 350]} ys={[253.3, 271.7, 290, 309.3, 328.3]} colors={greens} sub="a" sqX={886.7} txX={901.7} fs={15} />
      <VTxt x={801} y={253}>Power density (μW·cm<sup>-2</sup>)</VTxt>
      <VTxt x={822} y={253} fs={14}>Electric field (MV/m)</VTxt>
      <Txt x={1003} y={392} fs={14} anchor="middle">Depth (μm)</Txt>
      <Txt x={803} y={127} fs={15}>(c)</Txt>

      {/* (d) */}
      <SweepPanel plot={[128.3, 424.5, 391.7, 644.5]} rows={rowsD} xDom={[15, 17]} xt={tD} xtMaj={tDMaj} jscTicks={tJscD} jscMaj={tJscDMaj} jscColor="#6cc5e3" vocColor="#2f6198" />
      <MkLegend x0={140} x1={158} txX={161} rows={[
        { y: 438.3, color: "#404040", m: "sq", label: <PmL /> },
        { y: 457.3, color: "#6cc5e3", m: "ci", label: <JscL /> },
        { y: 474.3, color: "#2f6198", m: "tr", label: <VocL /> },
      ]} />
      <Txt x={260} y={672} fs={13.5}>lgN<sub>d</sub></Txt>
      <Txt x={90} y={411} fs={15}>(d)</Txt>

      {/* (e) */}
      <JVPanel plot={[511, 424.5, 768.3, 643.3]} v={vE} js={[jE15, jE16, jE17]} ps={[pE15, pE16, pE17]} colors={bluesE} ann={annE} />
      <SqLegend box={[649.3, 436, 756, 496.7]} ys={[448.3, 466.7, 485]} colors={bluesE} sub="d" sqX={666} txX={681.7} fs={13} />
      <Txt x={640} y={672} fs={13.5} anchor="middle">Voltage (V)</Txt>
      <VTxt x={475} y={535}>Current density (μA·cm<sup>-2</sup>)</VTxt>
      <Txt x={450} y={412} fs={15}>(e)</Txt>

      {/* (f) */}
      <BandPanel />
      <SqLegend box={[1026, 428.3, 1145, 530]} ys={[441.7, 461, 481, 501, 521.7]} colors={blues} sub="d" sqX={1043} txX={1058.3} fs={14.5} />
      <Txt x={866.7} y={511.7} fs={13}>Ec</Txt>
      <Txt x={866.7} y={571.7} fs={13}>Ev</Txt>
      <VTxt x={801} y={538}>Power density (μW·cm<sup>-2</sup>)</VTxt>
      <VTxt x={828} y={538} fs={14}>Energy (eV)</VTxt>
      <Txt x={1003} y={675} fs={14} anchor="middle">Depth (μm)</Txt>
      <Txt x={803} y={413} fs={15}>(f)</Txt>

      {capRows.map(([y, c, f]: any, i) => (
        <TL key={`c${i}`} x={77} y={y} w={1087} fs={16} flags={f}>
          {c}
        </TL>
      ))}

      {col(77, leftRows)}
      {col(638.5, rightRows)}

      <Txt x={620.5} y={1583} fs={14} bold={false} anchor="middle">6</Txt>
    </div>
  );
}
